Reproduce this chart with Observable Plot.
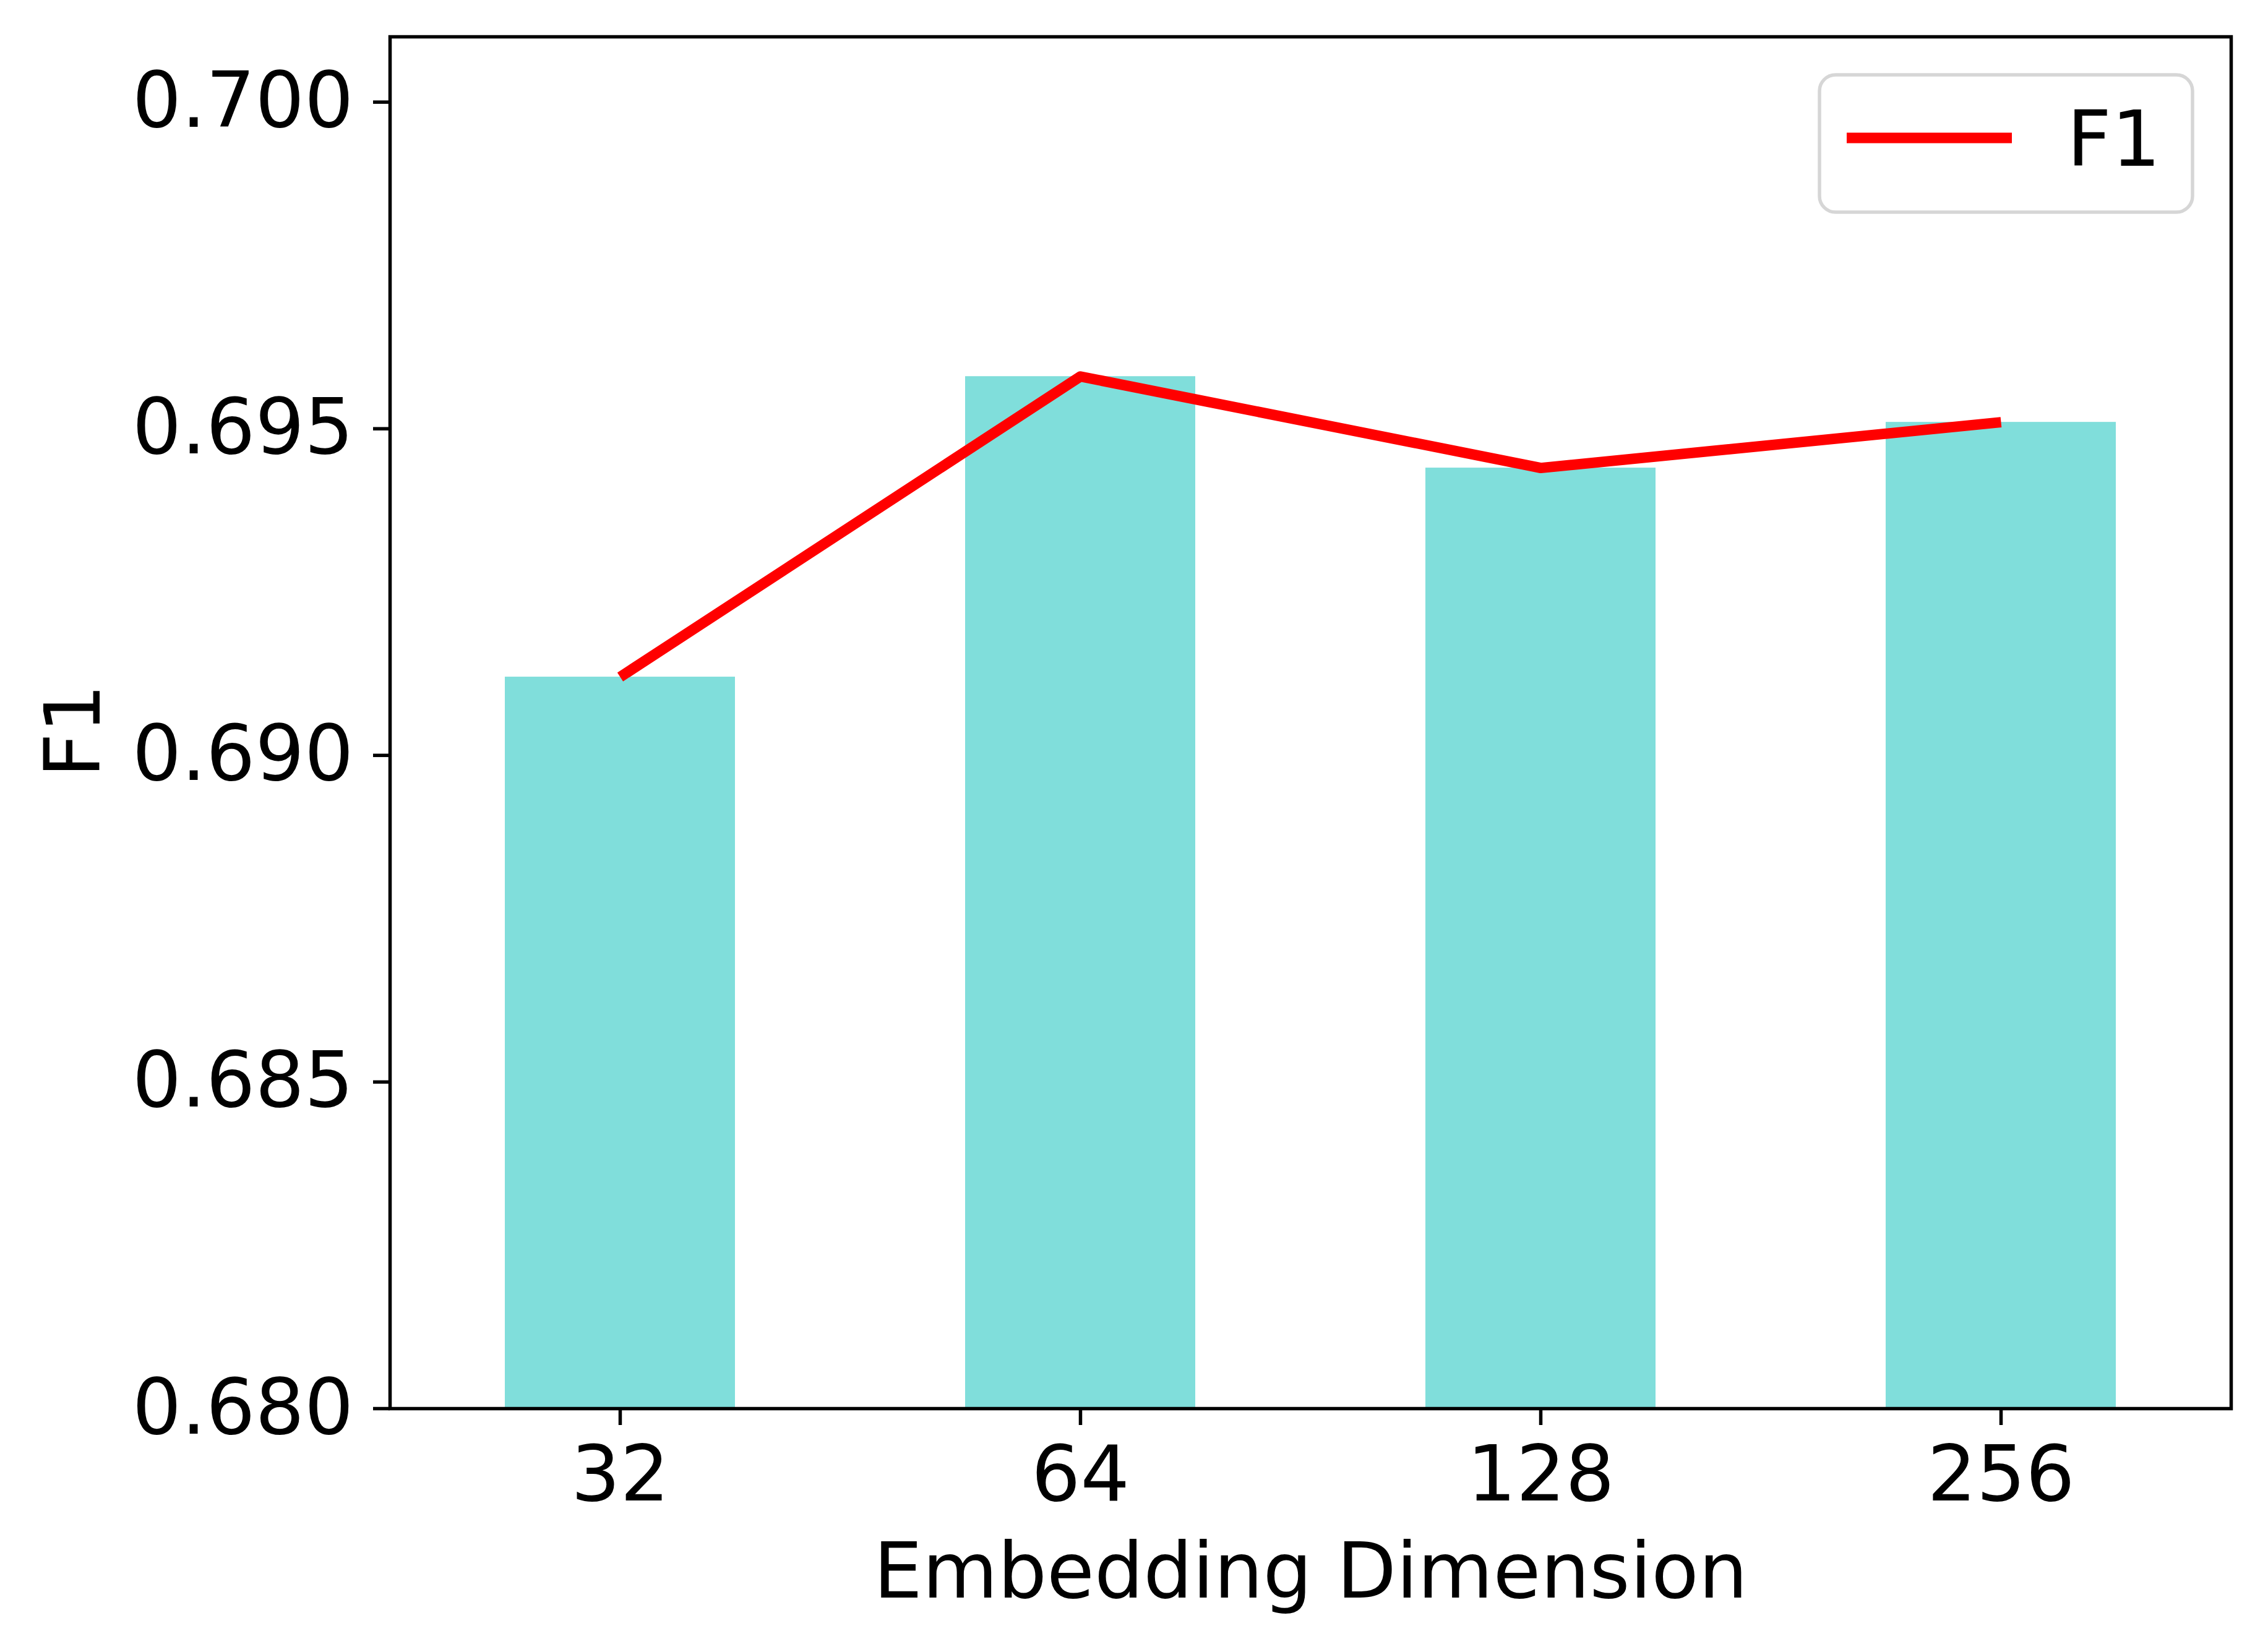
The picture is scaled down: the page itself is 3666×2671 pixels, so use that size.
<!DOCTYPE html>
<html>
<head>
<meta charset="utf-8">
<script src="https://cdn.jsdelivr.net/npm/d3@7"></script>
<script src="https://cdn.jsdelivr.net/npm/@observablehq/plot@0.6"></script>
<style>
  html, body { margin: 0; padding: 0; background: #ffffff; }
  #chart svg { display: block; }
</style>
</head>
<body>
<div id="chart"></div>
<script>
// ---- data ----
const dims = ["32", "64", "128", "256"];
const f1Values = [0.6912, 0.6958, 0.6944, 0.6951];
const yTicks = [0.680, 0.685, 0.690, 0.695, 0.700];
const yDomain = [0.680, 0.701];
const xLabel = "Embedding Dimension";
const yLabel = "F1";
const legendLabel = "F1";

const data = dims.map((d, i) => ({dim: d, f1: f1Values[i]}));

// ---- layout ----
const W = 3666, H = 2671;
const mL = 630, mR = 60, mT = 59, mB = 394;
const FS = 125;
const FONT = "DejaVu Sans";

const chart = Plot.plot({
  width: W,
  height: H,
  marginLeft: mL,
  marginRight: mR,
  marginTop: mT,
  marginBottom: mB,
  style: {fontFamily: FONT, fontSize: FS + "px", background: "#ffffff", color: "#000000"},
  x: {type: "band", domain: dims, paddingInner: 0.5, paddingOuter: 0.25, label: null},
  y: {domain: yDomain, label: null},
  marks: [
    Plot.barY(data, {x: "dim", y1: yDomain[0], y2: "f1", fill: "#80DEDB"}),
    Plot.line(data, {x: "dim", y: "f1", stroke: "#ff0000", strokeWidth: 17, strokeLinecap: "butt", strokeLinejoin: "round"}),
    Plot.frame({stroke: "#000000", strokeWidth: 5.5}),
    Plot.axisY({ticks: yTicks, tickFormat: d3.format(".3f"), tickSize: 27, tickPadding: 32, strokeWidth: 5.5, fontSize: FS, label: null}),
    Plot.axisX({tickSize: 27, tickPadding: 33, strokeWidth: 5.5, fontSize: FS, label: null}),
    Plot.text([xLabel], {text: d => d, frameAnchor: "bottom", textAnchor: "middle", lineAnchor: "top", dy: 217, fontSize: FS, fill: "#000000"}),
    Plot.text([yLabel], {text: d => d, frameAnchor: "left", textAnchor: "middle", lineAnchor: "middle", rotate: -90, dx: 120 - mL, dy: 13, fontSize: FS, fill: "#000000"})
  ]
});

// ---- legend (upper right, matplotlib style) ----
const svg = d3.select(chart);
const plotRight = W - mR;
const bx = plotRight - 62 - 603, by = mT + 62, bw = 603, bh = 222;
const g = svg.append("g").attr("class", "legend");
g.append("rect")
  .attr("x", bx).attr("y", by).attr("width", bw).attr("height", bh)
  .attr("rx", 26).attr("ry", 26)
  .attr("fill", "#ffffff").attr("fill-opacity", 0.8)
  .attr("stroke", "#d6d6d6").attr("stroke-width", 5.5);
g.append("line")
  .attr("x1", bx + 44).attr("x2", bx + 311)
  .attr("y1", by + 102).attr("y2", by + 102)
  .attr("stroke", "#ff0000").attr("stroke-width", 17);
g.append("text")
  .attr("x", bx + 400).attr("y", by + 147)
  .attr("text-anchor", "start")
  .attr("font-family", FONT).attr("font-size", FS)
  .attr("fill", "#000000")
  .text(legendLabel);

document.getElementById("chart").appendChild(chart);
</script>
</body>
</html>
